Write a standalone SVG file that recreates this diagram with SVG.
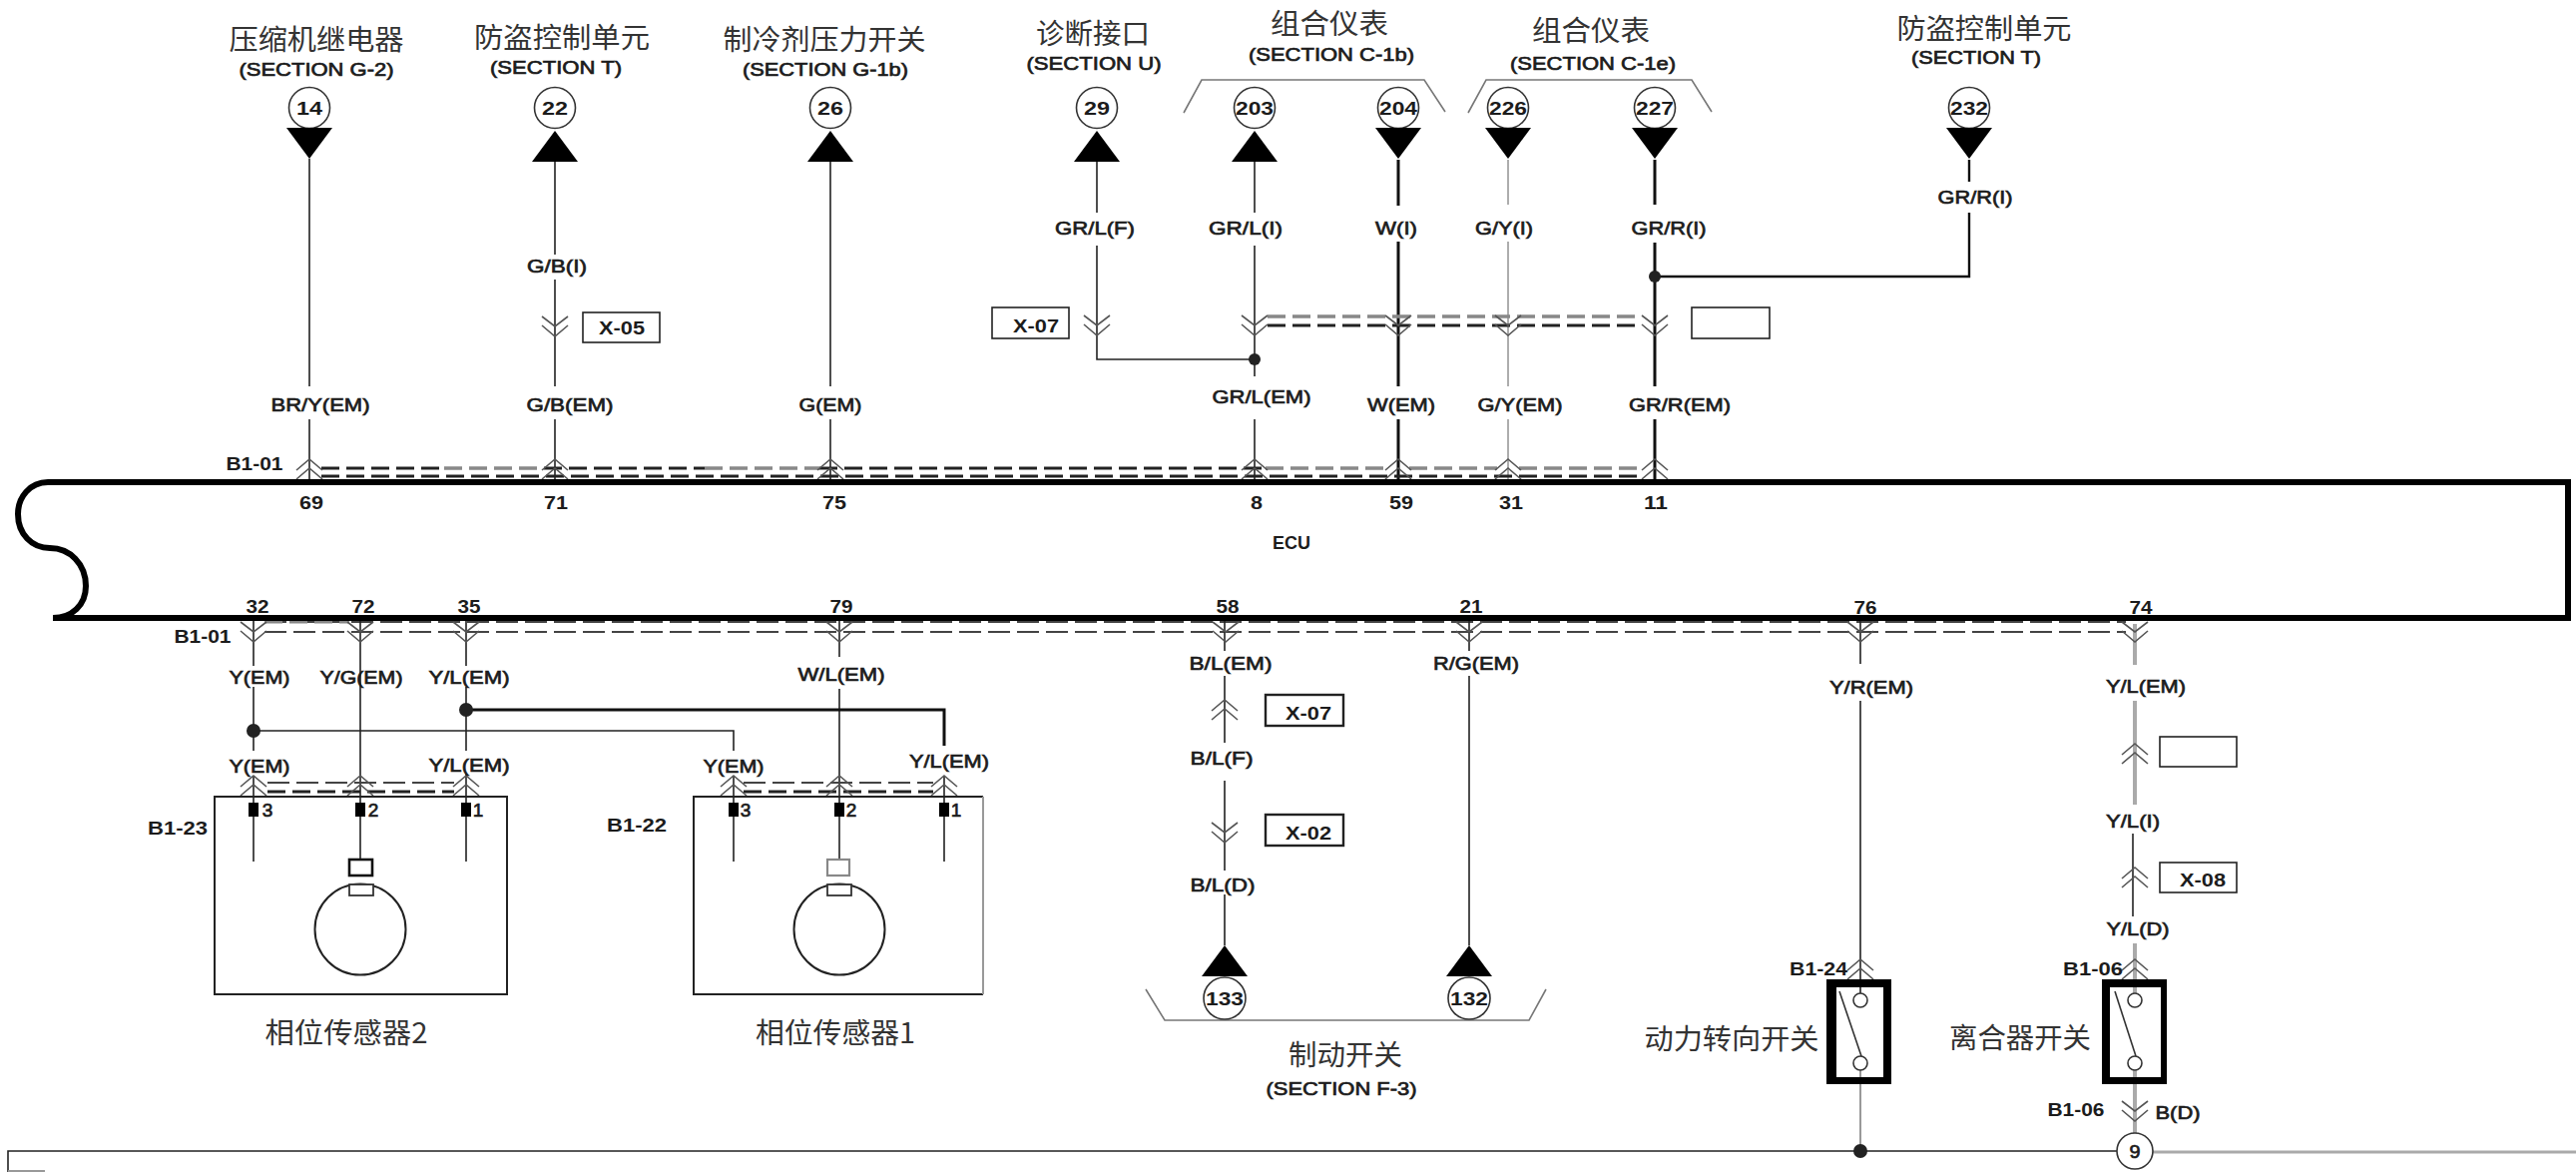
<svg xmlns="http://www.w3.org/2000/svg" width="2581" height="1174" viewBox="0 0 2581 1174">
<style>
text{font-family:"Liberation Sans","Noto Sans CJK SC",sans-serif;fill:#1c1c1c;text-anchor:middle;dominant-baseline:central}
.l{font-size:19px;stroke:#1c1c1c;stroke-width:.7}
.s{font-size:19px;font-weight:bold}
.n{font-size:19px;font-weight:bold}
.c{font-size:28px;font-family:"Noto Sans CJK SC",sans-serif;fill:#333}
.w{fill:none;stroke:#222;stroke-width:1.6}
.wt{fill:none;stroke:#111;stroke-width:3}
.wg{fill:none;stroke:#999;stroke-width:1.6}
.wgt{fill:none;stroke:#aaa;stroke-width:4}
.ch{fill:none;stroke:#555;stroke-width:1.6}
.da{fill:none;stroke:#222;stroke-width:3;stroke-dasharray:18 7}
.dg{fill:none;stroke:#888;stroke-width:3.5;stroke-dasharray:18 7}
.dt{fill:none;stroke:#444;stroke-width:2;stroke-dasharray:22 7}
.b{fill:#fff;stroke:#222;stroke-width:2}
.p{fill:#fff;stroke:#333;stroke-width:1.6}
.br{fill:none;stroke:#777;stroke-width:1.6}
.box{fill:#fff;stroke:#222;stroke-width:1.6}
</style>
<defs>
<path id="cd" d="M-13 0L0 10L13 0M-13 9L0 20L13 9"/>
<path id="cu" d="M-13 20L0 9L13 20M-13 11L0 0L13 11"/>
<polygon id="td" points="-23,0 23,0 0,31" fill="#000"/>
<polygon id="tu" points="0,0 23,31 -23,31" fill="#000"/>
</defs>
<rect width="2581" height="1174" fill="#fff"/>

<g id="connectors">
<path class="w" d="M310 159V387M310 420V480M556 162V255M556 280V387M556 420V480M832 162V387M832 420V480"/>
<path class="w" d="M1099 162V213M1099 246V360H1257M1257 162V213M1257 246V377M1257 420V480"/>
<path class="wt" d="M1401 160V206M1401 242V387M1401 420V480"/>
<path class="wg" d="M1511 160V205M1511 242V387M1511 420V480"/>
<path class="wt" d="M1658 160V205M1658 243V387M1658 420V480"/>
<path class="wt" d="M1973 160V182M1973 213V277H1658" style="stroke-width:2.4"/>
<path class="da" d="M322 477H1645M1270 326H1645"/>
<path class="da" d="M322 469H445M545 469H706M821 469H1265"/>
<path class="dg" d="M445 469H545M706 469H821M1268 469H1390M1412 469H1500M1522 469H1645M1270 317H1645"/>
<path class="dt" d="M265 633H2130M265 623H2130"/>
<path class="dg" d="M265 623H350" style="stroke-width:3"/>
<path class="w" d="M254 621V667M254 688V752M254 777V804M361 621V861M467 621V667M467 688V752M467 775V804"/>
<path class="w" d="M254 818V863M467 818V863M735 818V863M946 818V863"/>
<path class="w" d="M254 732H735V752M735 777V804M841 621V658M841 690V861M946 777V804"/>
<path class="wt" d="M467 711H946V747"/>
<path class="dt" d="M268 784H455M745 784H935" style="stroke-width:1.8"/>
<path class="da" d="M268 793H455M745 793H935"/>
<path class="w" d="M1227 621V652M1227 677V744M1227 782V872M1227 896V947M1472 621V652M1472 677V947"/>
<path class="w" d="M1864 621V665M1864 702V995"/>
<path class="wg" d="M1864 1072V1153" style="stroke-width:2"/>
<path class="wgt" d="M2139 625V666M2139 702V806M2139 945V981M2139 1086V1137"/>
<path class="w" d="M2137 835V918"/>
<path class="w" d="M8 1174V1153H2121"/>
<path class="wgt" d="M2157 1154H2581" style="stroke-width:3"/>
<path class="wg" d="M8 1173H45" style="stroke-width:2"/>
<g class="ch">
<use href="#cu" x="310" y="460"/><use href="#cu" x="556" y="460"/><use href="#cu" x="832" y="460"/><use href="#cu" x="1257" y="460"/><use href="#cu" x="1401" y="460"/><use href="#cu" x="1511" y="460"/><use href="#cu" x="1658" y="460"/>
<use href="#cd" x="556" y="317"/><use href="#cd" x="1099" y="316"/><use href="#cd" x="1257" y="316"/><use href="#cd" x="1401" y="316"/><use href="#cd" x="1511" y="316"/><use href="#cd" x="1658" y="316"/>
<use href="#cd" x="254" y="623"/><use href="#cd" x="361" y="623"/><use href="#cd" x="467" y="623"/><use href="#cd" x="841" y="623"/><use href="#cd" x="1228" y="623"/><use href="#cd" x="1472" y="623"/><use href="#cd" x="1864" y="623"/><use href="#cd" x="2139" y="623"/>
<use href="#cu" x="254" y="777"/><use href="#cu" x="361" y="777"/><use href="#cu" x="467" y="777"/><use href="#cu" x="735" y="777"/><use href="#cu" x="841" y="777"/><use href="#cu" x="946" y="777"/>
<use href="#cu" x="1227" y="701"/><use href="#cd" x="1227" y="824"/><use href="#cu" x="2139" y="745"/><use href="#cu" x="2139" y="869"/><use href="#cu" x="1864" y="961"/><use href="#cu" x="2139" y="961"/><use href="#cd" x="2139" y="1103"/>
</g>
<g fill="#222">
<circle cx="1257" cy="360" r="6"/><circle cx="1658" cy="277" r="6"/><circle cx="254" cy="732" r="7"/><circle cx="467" cy="711" r="7"/><circle cx="1864" cy="1153" r="7"/>
</g>
</g>

<g id="wire-labels">
<text class="l" x="321" y="405" textLength="99" lengthAdjust="spacingAndGlyphs">BR/Y(EM)</text>
<text class="l" x="558" y="266" textLength="60" lengthAdjust="spacingAndGlyphs">G/B(I)</text>
<text class="l" x="571" y="405" textLength="87" lengthAdjust="spacingAndGlyphs">G/B(EM)</text>
<text class="l" x="832" y="405" textLength="63" lengthAdjust="spacingAndGlyphs">G(EM)</text>
<text class="l" x="1097" y="228" textLength="80" lengthAdjust="spacingAndGlyphs">GR/L(F)</text>
<text class="l" x="1248" y="228" textLength="74" lengthAdjust="spacingAndGlyphs">GR/L(I)</text>
<text class="l" x="1399" y="228" textLength="42" lengthAdjust="spacingAndGlyphs">W(I)</text>
<text class="l" x="1507" y="228" textLength="58" lengthAdjust="spacingAndGlyphs">G/Y(I)</text>
<text class="l" x="1672" y="228" textLength="75" lengthAdjust="spacingAndGlyphs">GR/R(I)</text>
<text class="l" x="1979" y="197" textLength="75" lengthAdjust="spacingAndGlyphs">GR/R(I)</text>
<text class="l" x="1264" y="397" textLength="99" lengthAdjust="spacingAndGlyphs">GR/L(EM)</text>
<text class="l" x="1404" y="405" textLength="68" lengthAdjust="spacingAndGlyphs">W(EM)</text>
<text class="l" x="1523" y="405" textLength="85" lengthAdjust="spacingAndGlyphs">G/Y(EM)</text>
<text class="l" x="1683" y="405" textLength="102" lengthAdjust="spacingAndGlyphs">GR/R(EM)</text>
<text class="s" x="255" y="464" textLength="57" lengthAdjust="spacingAndGlyphs">B1-01</text>
<text class="s" x="203" y="637" textLength="57" lengthAdjust="spacingAndGlyphs">B1-01</text>
<text class="l" x="260" y="678" textLength="61" lengthAdjust="spacingAndGlyphs">Y(EM)</text>
<text class="l" x="362" y="678" textLength="83" lengthAdjust="spacingAndGlyphs">Y/G(EM)</text>
<text class="l" x="470" y="678" textLength="81" lengthAdjust="spacingAndGlyphs">Y/L(EM)</text>
<text class="l" x="843" y="675" textLength="87" lengthAdjust="spacingAndGlyphs">W/L(EM)</text>
<text class="l" x="260" y="767" textLength="61" lengthAdjust="spacingAndGlyphs">Y(EM)</text>
<text class="l" x="470" y="766" textLength="81" lengthAdjust="spacingAndGlyphs">Y/L(EM)</text>
<text class="l" x="735" y="767" textLength="61" lengthAdjust="spacingAndGlyphs">Y(EM)</text>
<text class="l" x="951" y="762" textLength="80" lengthAdjust="spacingAndGlyphs">Y/L(EM)</text>
<text class="l" x="1233" y="664" textLength="83" lengthAdjust="spacingAndGlyphs">B/L(EM)</text>
<text class="l" x="1479" y="664" textLength="86" lengthAdjust="spacingAndGlyphs">R/G(EM)</text>
<text class="l" x="1224" y="759" textLength="63" lengthAdjust="spacingAndGlyphs">B/L(F)</text>
<text class="l" x="1225" y="886" textLength="65" lengthAdjust="spacingAndGlyphs">B/L(D)</text>
<text class="l" x="1875" y="688" textLength="84" lengthAdjust="spacingAndGlyphs">Y/R(EM)</text>
<text class="l" x="2150" y="687" textLength="80" lengthAdjust="spacingAndGlyphs">Y/L(EM)</text>
<text class="l" x="2137" y="822" textLength="54" lengthAdjust="spacingAndGlyphs">Y/L(I)</text>
<text class="l" x="2142" y="930" textLength="63" lengthAdjust="spacingAndGlyphs">Y/L(D)</text>
<text class="s" x="1822" y="970" textLength="58" lengthAdjust="spacingAndGlyphs">B1-24</text>
<text class="s" x="2097" y="970" textLength="60" lengthAdjust="spacingAndGlyphs">B1-06</text>
<text class="s" x="2080" y="1111" textLength="57" lengthAdjust="spacingAndGlyphs">B1-06</text>
<text class="l" x="2182" y="1114" textLength="45" lengthAdjust="spacingAndGlyphs">B(D)</text>
<rect class="box" x="584" y="313" width="77" height="30"/><text class="s" x="623" y="328" textLength="46" lengthAdjust="spacingAndGlyphs">X-05</text>
<rect class="box" x="994" y="308" width="77" height="31"/><text class="s" x="1038" y="326" textLength="46" lengthAdjust="spacingAndGlyphs">X-07</text>
<rect class="box" x="1695" y="308" width="78" height="31"/>
<rect class="box" style="stroke-width:2.4" x="1268" y="696" width="78" height="31"/><text class="s" x="1311" y="714" textLength="46" lengthAdjust="spacingAndGlyphs">X-07</text>
<rect class="box" style="stroke-width:2.4" x="1268" y="816" width="78" height="31"/><text class="s" x="1311" y="834" textLength="46" lengthAdjust="spacingAndGlyphs">X-02</text>
<rect class="box" x="2164" y="738" width="77" height="30"/>
<rect class="box" x="2164" y="864" width="77" height="30"/><text class="s" x="2207" y="881" textLength="46" lengthAdjust="spacingAndGlyphs">X-08</text>
<path class="br" d="M1186 113L1204 80H1427L1448 112M1471 113L1489 80H1695L1715 112M1148 991L1167 1022H1532L1549 991"/>
</g>

<g id="ecu">
<path d="M2573 483H48C30 483 18 498 18 515C18 535 32 549 50 549C70 549 86 565 86 587C86 606 72 619 53 619H2573Z" fill="none" stroke="#000" stroke-width="6"/>
<text class="s" x="1294" y="543" textLength="38" lengthAdjust="spacingAndGlyphs">ECU</text>
<g>
<text class="s" x="312" y="503" textLength="24" lengthAdjust="spacingAndGlyphs">69</text><text class="s" x="557" y="503" textLength="24" lengthAdjust="spacingAndGlyphs">71</text><text class="s" x="836" y="503" textLength="24" lengthAdjust="spacingAndGlyphs">75</text><text class="s" x="1259" y="503" textLength="12" lengthAdjust="spacingAndGlyphs">8</text><text class="s" x="1404" y="503" textLength="24" lengthAdjust="spacingAndGlyphs">59</text><text class="s" x="1514" y="503" textLength="24" lengthAdjust="spacingAndGlyphs">31</text><text class="s" x="1659" y="503" textLength="24" lengthAdjust="spacingAndGlyphs">11</text>
<text class="s" x="258" y="607" textLength="23" lengthAdjust="spacingAndGlyphs">32</text><text class="s" x="364" y="607" textLength="23" lengthAdjust="spacingAndGlyphs">72</text><text class="s" x="470" y="607" textLength="23" lengthAdjust="spacingAndGlyphs">35</text><text class="s" x="843" y="607" textLength="23" lengthAdjust="spacingAndGlyphs">79</text><text class="s" x="1230" y="607" textLength="23" lengthAdjust="spacingAndGlyphs">58</text><text class="s" x="1474" y="607" textLength="23" lengthAdjust="spacingAndGlyphs">21</text><text class="s" x="1869" y="608" textLength="23" lengthAdjust="spacingAndGlyphs">76</text><text class="s" x="2145" y="608" textLength="23" lengthAdjust="spacingAndGlyphs">74</text>
</g>
</g>

<g id="n14"><text class="c" x="317" y="38" textLength="175" lengthAdjust="spacingAndGlyphs">压缩机继电器</text><text class="l" x="317" y="69" textLength="155" lengthAdjust="spacingAndGlyphs">(SECTION G-2)</text><circle class="p" cx="310" cy="108" r="20.5"/><text class="n" x="310" y="108" textLength="26" lengthAdjust="spacingAndGlyphs">14</text><use href="#td" x="310" y="128"/></g>
<g id="n22"><text class="c" x="563" y="36" textLength="176" lengthAdjust="spacingAndGlyphs">防盗控制单元</text><text class="l" x="557" y="67" textLength="132" lengthAdjust="spacingAndGlyphs">(SECTION T)</text><circle class="p" cx="556" cy="108" r="20.5"/><text class="n" x="556" y="108" textLength="26" lengthAdjust="spacingAndGlyphs">22</text><use href="#tu" x="556" y="131"/></g>
<g id="n26"><text class="c" x="826" y="38" textLength="203" lengthAdjust="spacingAndGlyphs">制冷剂压力开关</text><text class="l" x="827" y="69" textLength="166" lengthAdjust="spacingAndGlyphs">(SECTION G-1b)</text><circle class="p" cx="832" cy="108" r="20.5"/><text class="n" x="832" y="108" textLength="26" lengthAdjust="spacingAndGlyphs">26</text><use href="#tu" x="832" y="131"/></g>
<g id="n29"><text class="c" x="1095" y="32" textLength="114" lengthAdjust="spacingAndGlyphs">诊断接口</text><text class="l" x="1096" y="63" textLength="135" lengthAdjust="spacingAndGlyphs">(SECTION U)</text><circle class="p" cx="1099" cy="108" r="20.5"/><text class="n" x="1099" y="108" textLength="26" lengthAdjust="spacingAndGlyphs">29</text><use href="#tu" x="1099" y="131"/></g>
<g id="cluster-c1b"><text class="c" x="1332" y="22" textLength="118" lengthAdjust="spacingAndGlyphs">组合仪表</text><text class="l" x="1334" y="54" textLength="166" lengthAdjust="spacingAndGlyphs">(SECTION C-1b)</text></g>
<g id="n203"><circle class="p" cx="1257" cy="108" r="20.5"/><text class="n" x="1257" y="108" textLength="38" lengthAdjust="spacingAndGlyphs">203</text><use href="#tu" x="1257" y="131"/></g>
<g id="n204"><circle class="p" cx="1401" cy="108" r="20.5"/><text class="n" x="1401" y="108" textLength="38" lengthAdjust="spacingAndGlyphs">204</text><use href="#td" x="1401" y="128"/></g>
<g id="cluster-c1e"><text class="c" x="1594" y="29" textLength="118" lengthAdjust="spacingAndGlyphs">组合仪表</text><text class="l" x="1596" y="63" textLength="166" lengthAdjust="spacingAndGlyphs">(SECTION C-1e)</text></g>
<g id="n226"><circle class="p" cx="1511" cy="108" r="20.5"/><text class="n" x="1511" y="108" textLength="38" lengthAdjust="spacingAndGlyphs">226</text><use href="#td" x="1511" y="128"/></g>
<g id="n227"><circle class="p" cx="1658" cy="108" r="20.5"/><text class="n" x="1658" y="108" textLength="38" lengthAdjust="spacingAndGlyphs">227</text><use href="#td" x="1658" y="128"/></g>
<g id="n232"><text class="c" x="1988" y="27" textLength="175" lengthAdjust="spacingAndGlyphs">防盗控制单元</text><text class="l" x="1980" y="57" textLength="130" lengthAdjust="spacingAndGlyphs">(SECTION T)</text><circle class="p" cx="1973" cy="108" r="20.5"/><text class="n" x="1973" y="108" textLength="38" lengthAdjust="spacingAndGlyphs">232</text><use href="#td" x="1973" y="128"/></g>

<g id="sensor2">
<path d="M215 798H508V996H215Z" fill="none" stroke="#222" stroke-width="2"/>
<path d="M249 804h10v14h-10zM356 804h10v14h-10zM462 804h10v14h-10z" fill="#000"/>
<text class="l" x="268" y="811">3</text><text class="l" x="374" y="811">2</text><text class="l" x="479" y="811">1</text>
<rect x="350" y="861" width="23" height="16" fill="#fff" stroke="#111" stroke-width="2.6"/>
<circle cx="361" cy="931" r="45.5" fill="none" stroke="#222" stroke-width="2"/>
<rect x="350" y="886" width="24" height="11" fill="#fff" stroke="#333" stroke-width="1.8"/>
<text class="s" x="178" y="829" textLength="60" lengthAdjust="spacingAndGlyphs">B1-23</text>
<text class="c" x="347" y="1033" textLength="163" lengthAdjust="spacingAndGlyphs">相位传感器2</text>
</g>
<g id="sensor1">
<path d="M985 798H695V996H985" fill="none" stroke="#222" stroke-width="2"/><path d="M985 798V996" stroke="#999" stroke-width="2"/>
<path d="M730 804h10v14h-10zM836 804h10v14h-10zM941 804h10v14h-10z" fill="#000"/>
<text class="l" x="747" y="811">3</text><text class="l" x="853" y="811">2</text><text class="l" x="958" y="811">1</text>
<rect x="829" y="861" width="22" height="16" fill="#fff" stroke="#888" stroke-width="2.2"/>
<circle cx="841" cy="931" r="45.5" fill="none" stroke="#222" stroke-width="2"/>
<rect x="829" y="886" width="24" height="11" fill="#fff" stroke="#333" stroke-width="1.8"/>
<text class="s" x="638" y="826" textLength="60" lengthAdjust="spacingAndGlyphs">B1-22</text>
<text class="c" x="837" y="1033" textLength="160" lengthAdjust="spacingAndGlyphs">相位传感器1</text>
</g>

<g id="n133"><use href="#tu" x="1227" y="947"/><circle class="p" cx="1227" cy="1000" r="21"/><text class="n" x="1227" y="1000" textLength="38" lengthAdjust="spacingAndGlyphs">133</text></g>
<g id="n132"><use href="#tu" x="1472" y="947"/><circle class="p" cx="1472" cy="1000" r="21"/><text class="n" x="1472" y="1000" textLength="38" lengthAdjust="spacingAndGlyphs">132</text></g>
<g id="brake-title"><text class="c" x="1348" y="1055" textLength="114" lengthAdjust="spacingAndGlyphs">制动开关</text><text class="l" x="1344" y="1090" textLength="151" lengthAdjust="spacingAndGlyphs">(SECTION F-3)</text></g>

<g id="power-steering-switch">
<path fill-rule="evenodd" d="M1830 981H1895V1086H1830ZM1840 989V1079H1887V989Z" fill="#000"/>
<path d="M1843 993L1865 1058" stroke="#333" stroke-width="1.6" fill="none"/>
<circle class="p" cx="1864" cy="1002" r="7"/><circle class="p" cx="1864" cy="1065" r="7"/>
<text class="c" x="1735" y="1039" textLength="175" lengthAdjust="spacingAndGlyphs">动力转向开关</text>
</g>
<g id="clutch-switch">
<path fill-rule="evenodd" d="M2106 981H2171V1086H2106ZM2114 989V1079H2165V989Z" fill="#000"/>
<path d="M2119 993L2140 1058" stroke="#333" stroke-width="1.6" fill="none"/>
<path class="wgt" d="M2139 989V995M2139 1072V1079"/>
<circle class="p" cx="2139" cy="1002" r="7"/><circle class="p" cx="2139" cy="1065" r="7"/>
<text class="c" x="2024" y="1038" textLength="142" lengthAdjust="spacingAndGlyphs">离合器开关</text>
</g>
<g id="n9"><circle class="p" cx="2139" cy="1153" r="18"/><text class="l" x="2139" y="1153" textLength="11" lengthAdjust="spacingAndGlyphs">9</text></g>
</svg>
